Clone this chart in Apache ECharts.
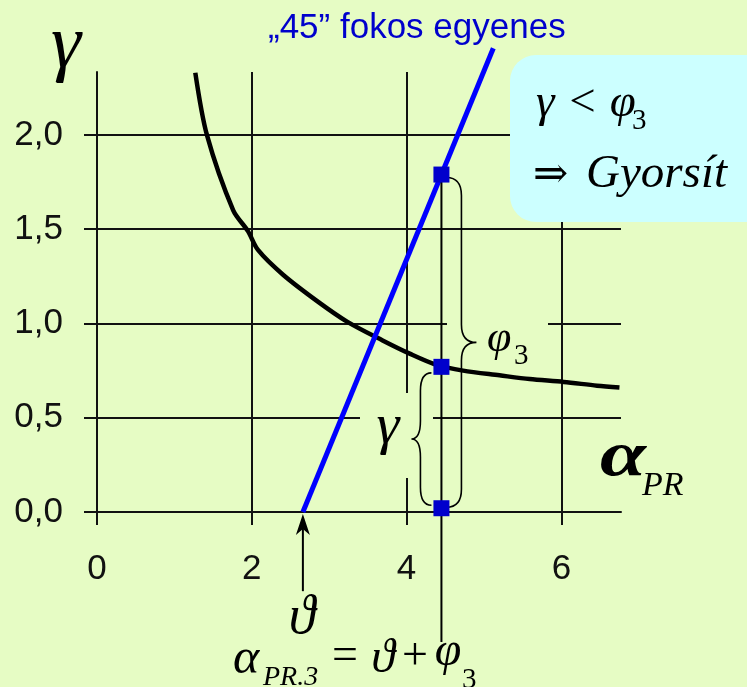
<!DOCTYPE html>
<html>
<head>
<meta charset="utf-8">
<script src="https://cdn.jsdelivr.net/npm/echarts@6/dist/echarts.min.js"></script>
<style>
html, body { margin: 0; padding: 0; background: #e6fcc4; }
#chart { width: 747px; height: 687px; }
</style>
</head>
<body>
<div id="chart"></div>
<script>
// axis ticks
var xTicks = [0, 2, 4, 6];
var yTicks = [0, 0.5, 1, 1.5, 2];

// gamma(alpha_PR) curve
var curveX = [1.27, 1.42, 1.76, 1.95, 2.08, 2.40, 2.84, 3.23, 3.69, 4.04, 4.39, 4.73, 5.20, 5.59, 6.03, 6.46, 6.75];
var curveY = [2.33, 2.00, 1.60, 1.49, 1.39, 1.26, 1.12, 1.01, 0.91, 0.84, 0.78, 0.75, 0.725, 0.705, 0.69, 0.67, 0.66];

// "45 fokos" line
var lineX = [2.66, 5.12];
var lineY = [0, 2.46];

// the three square points and the vertical guide through them
var pointX = 4.45;
var pointY = [1.79, 0.77, 0.02];
var guideY = [1.79, -0.69];
var arrowY = [-0.42, 0];

var bg = '#e6fcc4';
var serif = '"Liberation Serif", "DejaVu Serif", serif';
var sans = '"Liberation Sans", Arial, sans-serif';

function zip(xs, ys) {
  var out = [];
  for (var i = 0; i < xs.length; i++) out.push([xs[i], ys[i]]);
  return out;
}

/* text placed by its baseline */
function txt(s, x, base, size, opt) {
  opt = opt || {};
  return {
    type: 'text', z: 10, silent: true,
    scaleX: opt.sx || 1, originX: x, originY: base,
    style: {
      text: s, x: x, y: base - 0.34 * size,
      fontSize: size, fontFamily: opt.font || serif,
      fontStyle: opt.italic === false ? 'normal' : 'italic',
      fontWeight: opt.bold ? 'bold' : 'normal',
      fill: opt.color || '#000',
      align: opt.align || 'left', verticalAlign: 'middle',
      textShadowColor: opt.shadow || 'transparent',
      textShadowOffsetX: 2, textShadowOffsetY: 2
    }
  };
}

function bracePath(x, y0, y1, e, s, c) {
  var ym = (y0 + y1) / 2, r = 18;
  var xe = x + e, xs = x + s, xc = x + c;
  return 'M' + xe + ' ' + y0 + ' Q' + xs + ' ' + y0 + ' ' + xs + ' ' + (y0 + r) +
    ' L' + xs + ' ' + (ym - r) + ' Q' + xs + ' ' + ym + ' ' + xc + ' ' + ym +
    ' Q' + xs + ' ' + ym + ' ' + xs + ' ' + (ym + r) +
    ' L' + xs + ' ' + (y1 - r) + ' Q' + xs + ' ' + y1 + ' ' + xe + ' ' + y1;
}

var chart = echarts.init(document.getElementById('chart'));
var options = {
  backgroundColor: bg,
  animation: false,
  grid: { left: 97, top: 72, right: 126, bottom: 175, containLabel: false },
  xAxis: {
    type: 'value', min: 0, max: 6.77, interval: 2,
    axisLine: { show: true, onZero: false, lineStyle: { color: '#111', width: 2 } },
    axisTick: { show: true, inside: false, length: 13, customValues: xTicks, lineStyle: { color: '#111', width: 2 } },
    axisLabel: { customValues: xTicks, margin: 40, fontSize: 35, fontFamily: sans, color: '#111' },
    splitLine: { show: true, lineStyle: { color: '#111', width: 2 } }
  },
  yAxis: {
    type: 'value', min: 0, max: 2.334, interval: 0.5,
    axisLine: { show: true, onZero: false, lineStyle: { color: '#111', width: 2 } },
    axisTick: { show: true, inside: false, length: 13, customValues: yTicks, lineStyle: { color: '#111', width: 2 } },
    axisLabel: {
      customValues: yTicks, margin: 34, fontSize: 35, fontFamily: sans, color: '#111',
      formatter: function (v) { return v.toFixed(1).replace('.', ','); }
    },
    splitLine: { show: true, lineStyle: { color: '#111', width: 2 } }
  },
  graphic: [
    { type: 'rect', z: 1, silent: true, shape: { x: 510, y: 55, width: 262, height: 167, r: 26 }, style: { fill: '#ccffff' } },
    { type: 'rect', z: 1, silent: true, shape: { x: 360, y: 393, width: 73, height: 85 }, style: { fill: bg } },
    { type: 'rect', z: 1, silent: true, shape: { x: 447, y: 300, width: 101, height: 48 }, style: { fill: bg } },
    txt('γ', 66, 73, 76, { align: 'center' }),
    txt('\u201E45\u201D fokos egyenes', 268, 40, 35, { font: sans, italic: false, color: '#0000cc', shadow: '#9a9aa8' }),
    txt('γ < φ', 536, 120, 47),
    txt('3', 632, 131, 29, { italic: false }),
    txt('⇒', 533, 190, 42, { italic: false }),
    txt('Gyorsít', 586, 191, 47),
    txt('φ', 487, 354, 44),
    txt('3', 514, 366, 29, { italic: false }),
    txt('γ', 388, 447, 58, { align: 'center' }),
    txt('α', 600, 480, 64, { bold: true, sx: 1.3 }),
    txt('PR', 642, 498, 34),
    txt('ϑ', 302, 637, 54, { align: 'center' }),
    txt('α', 233, 677, 50),
    txt('PR.3', 263, 687, 28),
    txt('=', 345, 673, 46, { italic: false, align: 'center' }),
    txt('ϑ', 383, 676, 48, { align: 'center' }),
    txt('+', 415, 673, 46, { italic: false, align: 'center' }),
    txt('φ', 448, 669, 48, { align: 'center' }),
    txt('3', 462, 690, 29, { italic: false })
  ],
  series: [
    {
      type: 'line', data: zip(curveX, curveY), smooth: 0.3, showSymbol: false, z: 3,
      lineStyle: { color: '#000', width: 4.5 }
    },
    {
      type: 'line', data: zip(lineX, lineY), showSymbol: false, clip: false, z: 4,
      lineStyle: { color: '#0000ff', width: 5 }
    },
    {
      type: 'line', data: zip([pointX, pointX], guideY), showSymbol: false, clip: false, z: 4,
      lineStyle: { color: '#000', width: 2 }
    },
    {
      type: 'custom', z: 5, clip: false,
      encode: { x: 0, y: [1, 2] },
      data: [[pointX, pointY[0], pointY[2]], [pointX, pointY[1], pointY[2]]],
      renderItem: function (params, api) {
        var top = api.coord([api.value(0), api.value(1)]);
        var bot = api.coord([api.value(0), api.value(2)]);
        var o = params.dataIndex === 0 ? [5, 20, 35, 3, -1] : [-10, -21, -30, 6, -3];
        return {
          type: 'path',
          shape: { pathData: bracePath(top[0], top[1] + o[3], bot[1] + o[4], o[0], o[1], o[2]) },
          style: { fill: 'none', stroke: '#000', lineWidth: 1.6 }
        };
      }
    },
    {
      type: 'custom', z: 5, clip: false,
      encode: { x: 0, y: [1, 2] },
      data: [[lineX[0], arrowY[0], arrowY[1]]],
      renderItem: function (params, api) {
        var a = api.coord([api.value(0), api.value(1)]);
        var b = api.coord([api.value(0), api.value(2)]);
        var tipY = b[1] + 2;
        return {
          type: 'group',
          children: [
            { type: 'line', shape: { x1: a[0], y1: a[1], x2: b[0], y2: tipY + 10 }, style: { stroke: '#000', lineWidth: 2 } },
            { type: 'polygon', shape: { points: [[b[0], tipY], [b[0] + 7, tipY + 21], [b[0], tipY + 15], [b[0] - 7, tipY + 21]] }, style: { fill: '#000' } }
          ]
        };
      }
    },
    {
      type: 'scatter', data: zip([pointX, pointX, pointX], pointY), symbol: 'rect', symbolSize: 16, z: 6,
      itemStyle: { color: '#0000cc', opacity: 1 }
    }
  ]
};
chart.setOption(options);
</script>
</body>
</html>
